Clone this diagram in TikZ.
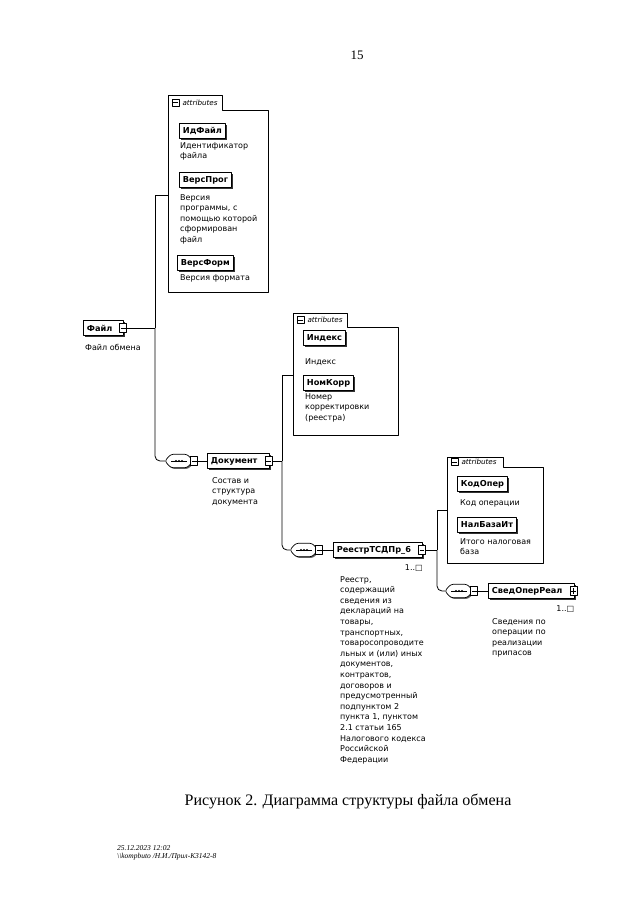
\documentclass[tikz,border=0pt]{standalone}
\usepackage{fontspec}
\setmainfont{Liberation Serif}
\newfontfamily\djv{DejaVu Sans}
\usetikzlibrary{shadows}
\newcommand\dtxt{\djv\fontsize{8}{10.6}\selectfont}
\newcommand\btxt{\djv\bfseries\fontsize{8.2}{10}\selectfont}
\newcommand\seqsym[3]{%
  \node[seqn] (#1) at (#2,#3) {};
  \draw[line width=0.7pt, fill=white, rounded corners=2.5pt,
        drop shadow={shadow xshift=1.2pt, shadow yshift=-1.2pt, opacity=1, fill=black!60}]
    (#1.north) -- ([xshift=-6pt]#1.north east) -- (#1.east) -- ([xshift=-6pt]#1.south east)
    -- ([xshift=6pt]#1.south west) -- (#1.west) -- ([xshift=6pt]#1.north west) -- cycle;
  \draw[line width=0.6pt] ([xshift=-8pt]#1.center) -- ([xshift=8pt]#1.center);
  \foreach \d in {-3,0,3} \fill ([xshift=\d pt]#1.center) circle (1.1pt);
  \node[mbox] (#1m) at ([xshift=1pt]#1.east) {};
}
\newcommand\attrbox[7]{%
  \node[minimum width={#6-#2}, minimum height={#7-#3}, inner sep=0] (#1) at ({(#2+#6)/2},{(#3+#7)/2}) {};
  \draw[attrframe] (#2,#3) -- (#4,#3) -- (#4,#5) -- (#6,#5) -- (#6,#7) -- (#2,#7) -- cycle;
  \node[mbox, minimum width=7, minimum height=7] (#1m) at ({#2+7.5},{(#3+#5)/2}) {};
  \node[tabl] (#1t) at ([xshift=3pt]#1m.east) {attributes};
}
\begin{document}
\begin{tikzpicture}[x=1pt,y=-1pt, line join=round,
  conn/.style={line width=0.8pt},
  elem/.style={draw, line width=0.8pt, fill=white, font=\btxt, minimum height=15, inner xsep=3.5pt, inner ysep=0pt, anchor=west,
    drop shadow={shadow xshift=1.6pt, shadow yshift=-1.6pt, opacity=1, fill=black!80}},
  mbox/.style={draw, line width=0.6pt, fill=white, minimum width=7, minimum height=9, inner sep=0pt,
    path picture={\draw[line width=0.6pt] ([xshift=1.2pt]path picture bounding box.west) -- ([xshift=-1.2pt]path picture bounding box.east);}},
  pbox/.style={draw, line width=0.6pt, fill=white, minimum width=7, minimum height=9, inner sep=0pt,
    path picture={\draw[line width=0.6pt] ([xshift=1.2pt]path picture bounding box.west) -- ([xshift=-1.2pt]path picture bounding box.east);
      \draw[line width=0.6pt] ([yshift=-1.5pt]path picture bounding box.north) -- ([yshift=1.5pt]path picture bounding box.south);}},
  desc/.style={font=\dtxt, align=left, anchor=north west, inner sep=0pt},
  tabl/.style={font=\djv\itshape\fontsize{7.2}{8}\selectfont, anchor=west, inner sep=0pt},
  attrframe/.style={line width=0.7pt},
  seqn/.style={minimum width=28, minimum height=13, inner sep=0pt},
]
\useasboundingbox[fill=white] (0,0) rectangle (640,905);

% page number
\node[font=\fontsize{13}{15}\selectfont] (pnum) at (357,55) {15};

% attribute frames
\attrbox{attrA}{168}{95}{222}{110}{268}{292}
\attrbox{attrB}{293}{313}{347}{327}{398}{435}
\attrbox{attrC}{447}{457}{503}{467}{543}{563}

% attributes of Файл
\node[elem] (idf) at (179,131) {ИдФайл};
\node[desc] (idfd) at (180,142) {Идентификатор\\файла};
\node[elem] (vprog) at (179,180) {ВерсПрог};
\node[desc] (vprogd) at (180,194) {Версия\\программы, с\\помощью которой\\сформирован\\файл};
\node[elem] (vform) at (177,263) {ВерсФорм};
\node[desc] (vformd) at (180,274) {Версия формата};

% root
\node[elem] (fajl) at (83,328) {Файл\kern8pt};
\node[mbox] (fajlm) at ([xshift=-1pt]fajl.east) {};
\node[desc] (fajld) at (85,344) {Файл обмена};

% Документ
\seqsym{seqA}{179}{461}
\node[elem] (doc) at (207,461) {Документ\kern8pt};
\node[mbox] (docm) at ([xshift=-1pt]doc.east) {};
\node[desc] (docd) at (212,477) {Состав и\\структура\\документа};

% attributes of Документ
\node[elem] (ind) at (303,338) {Индекс};
\node[desc] (indd) at (305,358) {Индекс};
\node[elem] (nomk) at (303,383) {НомКорр};
\node[desc] (nomkd) at (305,393) {Номер\\корректировки\\(реестра)};

% Реестр
\seqsym{seqB}{304}{550}
\node[elem] (reestr) at (333,550) {РеестрТСДПр\_6\kern8pt};
\node[mbox] (reestrm) at ([xshift=-1pt]reestr.east) {};
\node[font=\dtxt, anchor=east, inner sep=0pt] (multB) at ([yshift=-10pt]reestr.south east) {1..□};
\node[desc] (reestrd) at (340,576) {Реестр,\\содержащий\\сведения из\\деклараций на\\товары,\\транспортных,\\товаросопроводите\\льных и (или) иных\\документов,\\контрактов,\\договоров и\\предусмотренный\\подпунктом 2\\пункта 1, пунктом\\2.1 статьи 165\\Налогового кодекса\\Российской\\Федерации};

% attributes of Реестр
\node[elem] (kodop) at (457,484) {КодОпер};
\node[desc] (kodopd) at (460,499) {Код операции};
\node[elem] (nalb) at (457,525) {НалБазаИт};
\node[desc] (nalbd) at (460,538) {Итого налоговая\\база};

% СведОперРеал
\seqsym{seqC}{459}{591}
\node[elem] (sved) at (488,591) {СведОперРеал\kern8pt};
\node[pbox] (svedm) at ([xshift=-1pt]sved.east) {};
\node[font=\dtxt, anchor=east, inner sep=0pt] (multC) at ([yshift=-10pt]sved.south east) {1..□};
\node[desc] (svedd) at (492,618) {Сведения по\\операции по\\реализации\\припасов};

% connectors
\coordinate (jA) at (155,328); \coordinate (tA) at (155,195);
\draw[conn] (fajlm.east) -- (jA);
\draw[conn] (attrA.west |- tA) -- (tA) -- (jA);
\draw[conn, rounded corners=5pt] (jA) |- (seqA.west);
\draw[conn] (seqAm.east) -- (doc.west);

\coordinate (jB) at (282,461); \coordinate (tB) at (282,375);
\draw[conn] (docm.east) -- (jB);
\draw[conn] (attrB.west |- tB) -- (tB) -- (jB);
\draw[conn, rounded corners=5pt] (jB) |- (seqB.west);
\draw[conn] (seqBm.east) -- (reestr.west);

\coordinate (jC) at (437,550); \coordinate (tC) at (437,510);
\draw[conn] (reestrm.east) -- (jC);
\draw[conn] (attrC.west |- tC) -- (tC) -- (jC);
\draw[conn, rounded corners=5pt] (jC) |- (seqC.west);
\draw[conn] (seqCm.east) -- (sved.west);

% caption
\node[font=\fontsize{16}{18}\selectfont] (cap) at (348,801) {Рисунок 2. Диаграмма структуры файла обмена};

% footer
\node[font=\itshape\fontsize{7.5}{8}\selectfont, align=left, anchor=north west, inner sep=0pt] (foot) at (117,845)
  {25.12.2023 12:02\\\textbackslash\textbackslash kompbuto /Н.И./Прил-К3142-8};
\end{tikzpicture}
\end{document}
